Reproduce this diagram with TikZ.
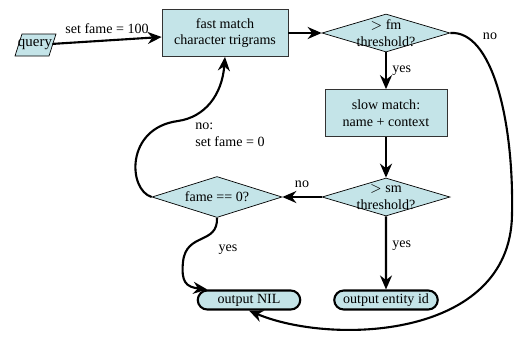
\documentclass[tikz,border=0pt]{standalone}
\usepackage{fontspec}
\setmainfont{Liberation Serif}
\usetikzlibrary{shapes.geometric,shapes.misc,arrows.meta}
\definecolor{boxfill}{RGB}{196,228,232}

\begin{document}
\begin{tikzpicture}[
        x=0.02cm, y=-0.02cm,
        font=\fontsize{8}{9.5}\selectfont,
        process/.style={rectangle, draw=black!80, fill=boxfill, minimum width=2.52cm, minimum height=0.94cm, align=center, inner sep=1pt},
        test/.style={diamond, draw, fill=boxfill, minimum width=2.56cm, minimum height=0.76cm, inner sep=0pt},
        test_text/.style={align=center, inner sep=0pt},
        terminal/.style={rounded rectangle, draw, line width=1.2pt, fill=boxfill, minimum width=2.12cm, minimum height=0.38cm, inner sep=1pt},
        flow/.style={-{Stealth[length=0.28cm, width=0.24cm]}, line width=1.2pt},
        edge_label/.style={align=left, inner sep=0pt}
    ]
        \useasboundingbox (0,0) rectangle (525,336);

        % main line: query -> fast match -> fm threshold
        \draw[fill=boxfill] (15,56) -- (22,34) -- (56,34) -- (49,56) -- cycle;
        \node[test_text, font=\fontsize{8.5}{10}\selectfont] (query) at (35,45) {query};
        \node[process] (fast_match) at (225,33) {fast match\\character trigrams};
        \node[test] (fm_test) at (386,33) {};
        \node[test_text] (fm_text) at (fm_test) {$>$ fm\\threshold?};
        \draw[flow] (query) -- (fast_match) node[edge_label, midway, above=3pt] {set fame = 100};
        \draw[flow] (fast_match) -- (fm_test);

        % slow match and sm threshold
        \node[process, minimum width=2.44cm] (slow_match) at (386,113) {slow match:\\name + context};
        \node[test] (sm_test) at (386,197) {};
        \node[test_text] (sm_text) at (sm_test) {$>$ sm\\threshold?};
        \draw[flow] (fm_test) -- (slow_match) node[edge_label, midway, right=3pt] {yes};
        \draw[flow] (slow_match) -- (sm_test);

        % fame test
        \node[test, minimum width=2.6cm, minimum height=0.82cm] (fame_test) at (217,197) {};
        \node[test_text] (fame_text) at (fame_test) {fame == 0?};
        \draw[flow] (sm_test) -- (fame_test) node[edge_label, midway, above=5pt] {no};

        % outputs
        \node[terminal] (output_nil) at (249,300) {output NIL};
        \node[terminal, minimum width=2.14cm] (output_entity) at (386,300) {output entity id};
        \draw[flow] (sm_test) -- (output_entity) node[edge_label, pos=0.4, right=3pt] {yes};
        \draw[flow] (fame_test.south) .. controls (218,245) and (186,232) .. (183,262)
            .. controls (181,282) and (186,287) .. (output_nil.north west);
        \node[edge_label] (yes_nil) at (228,250) {yes};

        % loops back
        \draw[flow] (fame_test.west) .. controls (128,190) and (125,128) .. (178,121)
            .. controls (205,117) and (222,95) .. (fast_match.south);
        \node[edge_label, anchor=west] (no_reset) at (195,135) {no:\\set fame = 0};
        \draw[flow] (fm_test.east) .. controls (492,30) and (514,120) .. (512,215)
            .. controls (510,340) and (330,345) .. (output_nil.south);
        \node[edge_label] (no_fm) at (490,36) {no};
    \end{tikzpicture}
\end{document}
